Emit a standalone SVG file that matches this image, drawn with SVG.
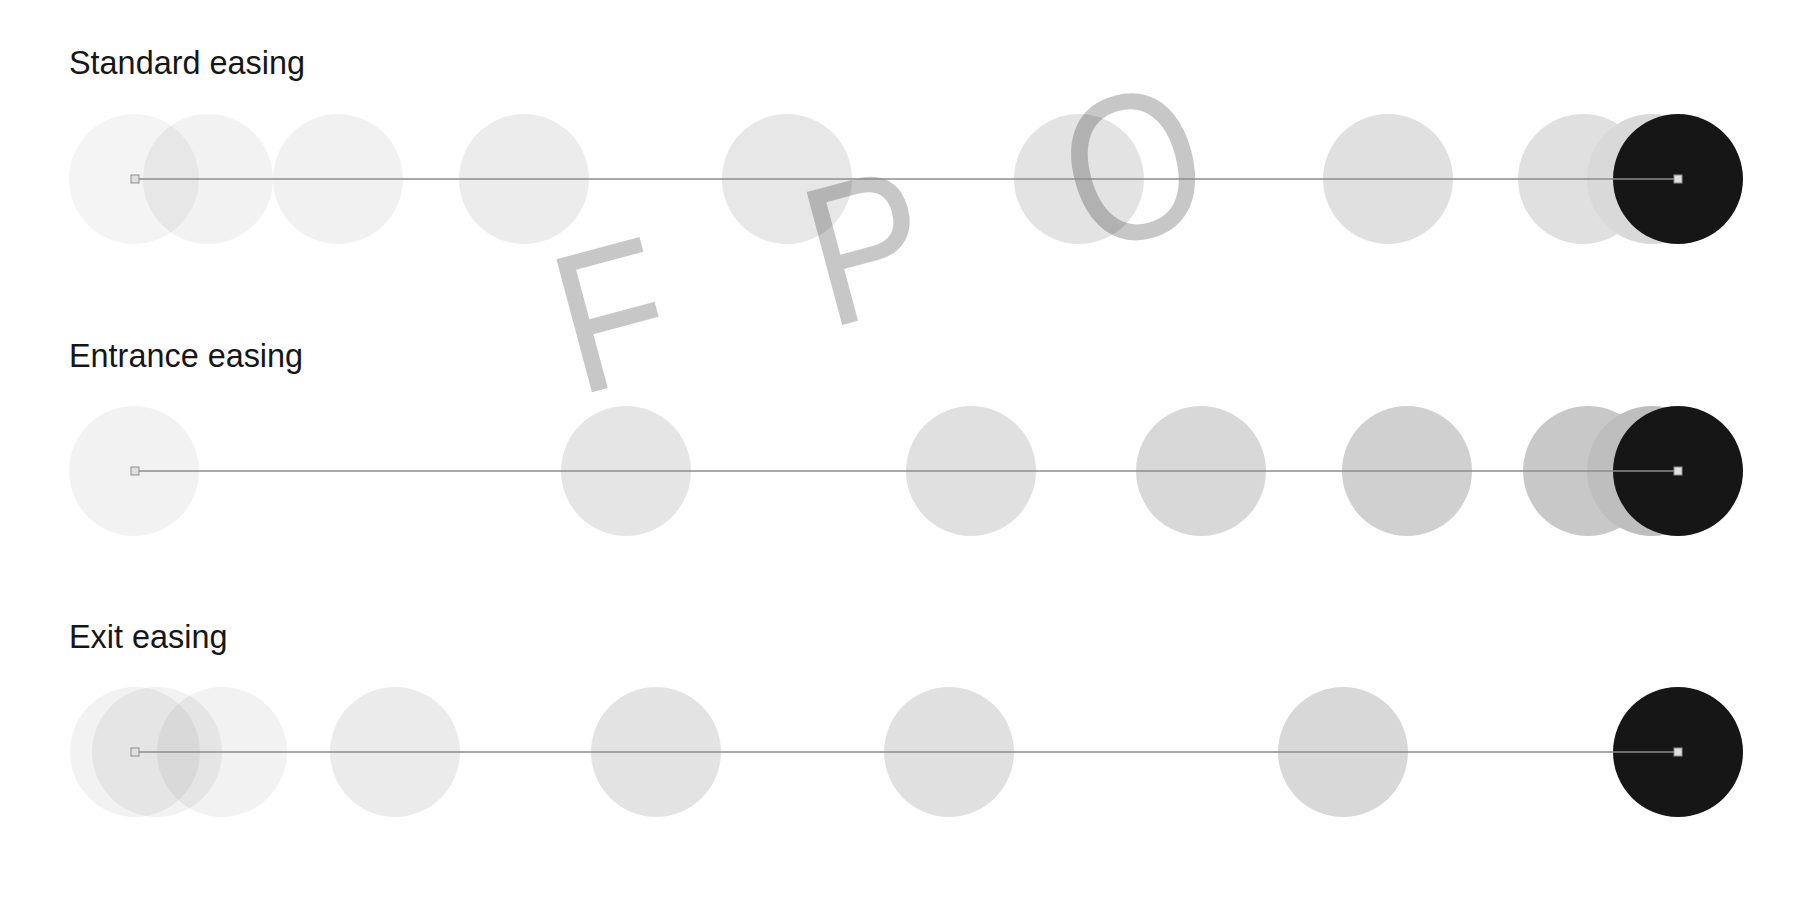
<svg xmlns="http://www.w3.org/2000/svg" width="1809" height="906" viewBox="0 0 1809 906">
  <style>
    .title { font-family: "Liberation Sans", Arial, sans-serif; font-size: 32.4px; fill: #161616; }
    .dot { fill: #000000; }
    .final { fill: #161616; }
    .track { stroke: #8d8d8d; stroke-width: 1.5; fill: none; }
    .pt { fill: #e0e0e0; stroke: #8d8d8d; stroke-width: 1; }
    .fpo { font-family: "Liberation Sans", Arial, sans-serif; font-size: 200px; fill: #000000; fill-opacity: 0.22; }
  </style>
  <rect width="1809" height="906" fill="#ffffff"/>

  <g id="standard">
    <text class="title" x="69" y="74">Standard easing</text>
    <g id="standard-dots">
      <circle class="dot" cx="134" cy="179" r="65" fill-opacity="0.045"/>
      <circle class="dot" cx="208" cy="179" r="65" fill-opacity="0.05"/>
      <circle class="dot" cx="338" cy="179" r="65" fill-opacity="0.055"/>
      <circle class="dot" cx="524" cy="179" r="65" fill-opacity="0.075"/>
      <circle class="dot" cx="787" cy="179" r="65" fill-opacity="0.095"/>
      <circle class="dot" cx="1079" cy="179" r="65" fill-opacity="0.11"/>
      <circle class="dot" cx="1388" cy="179" r="65" fill-opacity="0.122"/>
      <circle class="dot" cx="1583" cy="179" r="65" fill-opacity="0.122"/>
      <circle cx="1652" cy="179" r="65" fill="#d9d9d9"/>
      <circle class="final" cx="1678" cy="179" r="65"/>
    </g>
  </g>

  <g id="entrance">
    <text class="title" x="69" y="367">Entrance easing</text>
    <g id="entrance-dots">
      <circle class="dot" cx="134" cy="471" r="65" fill-opacity="0.05"/>
      <circle class="dot" cx="626" cy="471" r="65" fill-opacity="0.1"/>
      <circle class="dot" cx="971" cy="471" r="65" fill-opacity="0.122"/>
      <circle class="dot" cx="1201" cy="471" r="65" fill-opacity="0.153"/>
      <circle class="dot" cx="1407" cy="471" r="65" fill-opacity="0.184"/>
      <circle class="dot" cx="1588" cy="471" r="65" fill-opacity="0.216"/>
      <circle cx="1652" cy="471" r="65" fill="#bebebe"/>
      <circle class="final" cx="1678" cy="471" r="65"/>
    </g>
  </g>

  <g id="exit">
    <text class="title" x="69" y="648">Exit easing</text>
    <g id="exit-dots">
      <circle class="dot" cx="135" cy="752" r="65" fill-opacity="0.05"/>
      <circle class="dot" cx="157" cy="752" r="65" fill-opacity="0.05"/>
      <circle class="dot" cx="222" cy="752" r="65" fill-opacity="0.05"/>
      <circle class="dot" cx="395" cy="752" r="65" fill-opacity="0.08"/>
      <circle class="dot" cx="656" cy="752" r="65" fill-opacity="0.11"/>
      <circle class="dot" cx="949" cy="752" r="65" fill-opacity="0.122"/>
      <circle class="dot" cx="1343" cy="752" r="65" fill-opacity="0.153"/>
      <circle class="final" cx="1678" cy="752" r="65"/>
    </g>
  </g>

  <g id="fpo" transform="translate(566.5,399) rotate(-15)">
    <text class="fpo" transform="translate(12,0) scale(0.88,1)" x="0" y="0">F</text>
    <text class="fpo" transform="translate(271,0) scale(0.88,1)" x="0" y="0">P</text>
    <text class="fpo" text-anchor="middle" transform="translate(607.5,-6) scale(0.88,1.04)" x="0" y="0">O</text>
  </g>

  <g id="connectors">
    <line class="track" x1="135" y1="179" x2="1678" y2="179"/>
    <rect class="pt" x="131" y="175" width="8" height="8"/>
    <rect class="pt" x="1674" y="175" width="8" height="8"/>
    <line class="track" x1="135" y1="471" x2="1678" y2="471"/>
    <rect class="pt" x="131" y="467" width="8" height="8"/>
    <rect class="pt" x="1674" y="467" width="8" height="8"/>
    <line class="track" x1="135" y1="752" x2="1678" y2="752"/>
    <rect class="pt" x="131" y="748" width="8" height="8"/>
    <rect class="pt" x="1674" y="748" width="8" height="8"/>
  </g>
</svg>
